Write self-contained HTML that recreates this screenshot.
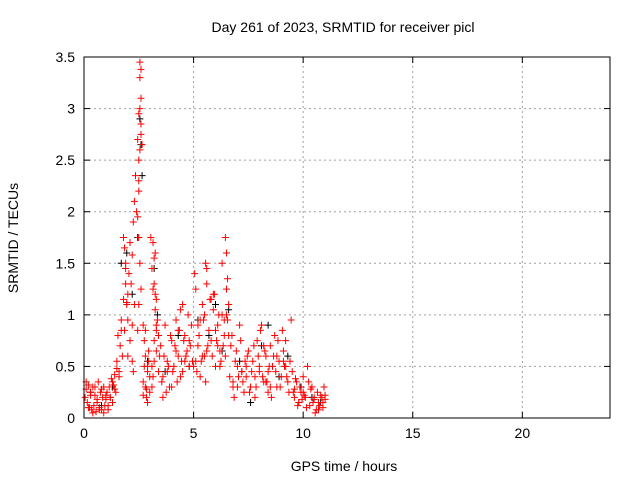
<!DOCTYPE html>
<html><head><meta charset="utf-8"><style>
html,body{margin:0;padding:0;background:#fff;}
svg{display:block;font-family:"Liberation Sans",sans-serif;}
</style></head><body>
<svg id="chart" width="640" height="480" viewBox="0 0 640 480">
<text x="343" y="32" font-size="14" text-anchor="middle">Day 261 of 2023, SRMTID for receiver picl</text>
<text x="344" y="471" font-size="14" text-anchor="middle">GPS time / hours</text>
<text x="18" y="238" font-size="14" text-anchor="middle" transform="rotate(-90 18 238)">SRMTID / TECUs</text>
<g id="grid"></g>
<g id="ticks"></g>
<g id="blackpts"></g>
<g id="redpts"></g>
<rect x="84" y="57" width="526" height="361" fill="none" stroke="#000" stroke-width="1"/>
</svg>
<script>
const xTicks=[0,5,10,15,20];
const yTicks=[0,0.5,1,1.5,2,2.5,3,3.5];
const yTickLabels=["0","0.5","1","1.5","2","2.5","3","3.5"];
const redT=[0.05,0.1,0.15,0.2,0.25,0.3,0.35,0.4,0.45,0.5,0.55,0.6,0.65,0.7,0.75,0.8,0.85,0.9,0.95,1.0,0.1,0.2,0.3,0.4,0.5,0.6,0.7,0.8,0.9,1.0,1.05,1.1,1.15,1.2,1.25,1.3,1.35,1.4,1.45,1.5,1.1,1.2,1.3,1.4,
1.5,1.55,1.6,1.65,1.7,1.75,1.8,1.85,1.9,1.95,2.0,1.6,1.7,1.8,1.9,2.0,1.85,1.9,1.95,2.0,2.05,2.1,2.15,2.2,2.25,2.3,2.35,2.4,2.1,2.2,2.3,2.2,2.25,
2.45,2.5,2.5,2.55,2.55,2.55,2.55,2.6,2.6,2.6,2.6,2.5,2.5,2.45,2.5,2.55,2.6,2.65,2.5,2.45,
2.7,2.75,2.8,2.85,2.9,2.95,3.0,2.7,2.8,2.9,3.0,2.75,2.85,2.95,2.7,2.8,2.9,
3.05,3.1,3.15,3.2,3.25,3.3,3.35,3.4,3.45,3.1,3.15,3.2,3.25,3.3,3.15,3.2,3.25,3.1,3.3,3.4,3.2,3.3,
3.5,3.6,3.7,3.8,3.9,4.0,4.1,4.2,4.3,4.4,4.5,4.6,4.7,4.8,4.9,3.55,3.65,3.75,3.85,3.95,4.05,4.15,4.25,4.35,4.45,4.55,4.65,4.75,4.85,4.95,3.6,3.8,4.0,4.2,4.4,4.6,4.8,4.5,4.3,
5.0,5.1,5.2,5.3,5.4,5.5,5.6,5.7,5.8,5.9,6.0,6.1,6.2,6.3,6.4,5.05,5.15,5.25,5.35,5.45,5.55,5.65,5.75,5.85,5.95,6.05,6.15,6.25,6.35,5.2,5.3,5.5,5.6,5.8,6.0,6.2,6.4,5.4,5.55,5.6,5.1,5.9,6.1,6.3,
6.45,6.5,6.5,6.55,6.55,6.6,6.6,6.5,6.45,6.65,6.7,6.8,6.9,7.0,7.1,7.2,7.3,7.4,6.75,6.85,6.95,7.05,7.15,7.25,7.35,7.45,6.8,7.0,7.2,7.4,
7.5,7.6,7.7,7.8,7.9,8.0,8.1,8.2,8.3,8.4,8.5,8.6,8.7,8.8,8.9,9.0,9.1,9.2,9.3,9.4,7.55,7.65,7.75,7.85,7.95,8.05,8.15,8.25,8.35,8.45,8.55,8.65,8.75,8.85,8.95,9.05,9.15,9.25,9.35,9.45,8.0,8.2,8.3,8.4,8.8,9.1,9.2,7.8,8.5,
9.5,9.6,9.7,9.8,9.9,10.0,10.1,10.2,9.55,9.65,9.75,9.85,9.95,10.05,10.15,10.25,9.6,9.8,10.0,
10.3,10.4,10.5,10.6,10.7,10.8,10.9,11.0,10.35,10.45,10.55,10.65,10.75,10.85,10.95,10.5,10.7,10.9,11.0,10.6];
const redV=[0.2,0.28,0.15,0.32,0.1,0.25,0.08,0.3,0.12,0.22,0.06,0.18,0.35,0.1,0.25,0.08,0.2,0.3,0.12,0.22,0.35,0.1,0.22,0.05,0.3,0.15,0.08,0.28,0.05,0.18,0.25,0.12,0.3,0.2,0.38,0.15,0.32,0.42,0.25,0.48,0.08,0.2,0.35,0.28,
0.55,0.8,0.45,0.7,0.95,0.6,1.15,0.85,1.45,1.1,0.6,0.4,0.85,1.75,1.3,1.2,1.65,1.5,1.12,0.95,1.4,1.7,1.3,1.58,1.9,2.1,2.35,2.0,0.75,0.55,1.1,0.9,0.45,
2.7,2.95,2.3,3.45,3.3,3.0,2.6,3.38,3.1,2.85,2.75,2.5,2.2,1.95,1.75,1.5,1.25,2.65,1.1,0.85,
0.9,0.5,0.3,0.2,0.45,0.65,0.25,0.35,0.6,0.15,0.4,0.75,0.28,0.55,0.22,0.85,0.5,
1.75,1.45,1.7,1.3,1.6,1.15,0.95,0.8,0.6,0.5,1.25,0.75,1.05,0.9,0.4,1.55,1.2,0.3,0.65,0.45,0.55,0.85,
0.7,0.4,0.9,0.55,0.3,0.75,0.5,0.95,0.6,1.05,0.45,0.8,0.65,0.5,0.9,0.35,0.6,0.25,0.5,0.8,0.45,0.7,0.35,0.85,0.55,0.75,0.6,1.0,0.7,0.55,0.2,0.45,0.3,0.65,0.4,0.55,0.75,1.1,0.85,
0.5,1.25,0.7,0.95,1.1,0.6,1.45,0.85,0.75,1.05,0.5,0.9,0.65,1.0,0.8,1.4,0.45,0.8,0.55,0.95,1.5,0.7,1.15,0.6,1.2,0.75,1.0,0.55,0.7,0.9,0.4,1.0,0.65,1.15,0.85,0.5,0.95,0.6,0.35,1.3,0.55,1.2,0.7,
1.5,1.75,1.25,1.6,0.95,1.35,0.8,1.1,1.0,0.6,0.4,0.7,0.35,0.55,0.3,0.9,0.45,0.25,0.5,0.8,0.2,0.65,0.4,0.75,0.35,0.55,0.6,0.3,0.5,0.45,
0.4,0.65,0.3,0.55,0.2,0.75,0.45,0.9,0.35,0.6,0.25,0.7,0.5,0.8,0.3,0.55,0.4,0.65,0.75,0.35,0.55,0.25,0.45,0.7,0.3,0.6,0.85,0.4,0.65,0.35,0.5,0.2,0.6,0.45,0.75,0.3,0.85,0.5,0.4,0.25,0.95,0.5,0.7,0.35,0.45,0.6,0.55,0.5,0.4,
0.3,0.45,0.2,0.35,0.15,0.25,0.4,0.2,0.5,0.25,0.38,0.12,0.3,0.18,0.22,0.1,0.35,0.28,0.15,
0.25,0.12,0.3,0.2,0.08,0.15,0.22,0.1,0.18,0.28,0.15,0.05,0.25,0.12,0.2,0.3,0.18,0.08,0.15,0.22];
const blackT=[0.3,0.8,1.3,1.7,1.95,2.2,2.45,2.55,2.6,2.65,2.9,3.2,3.35,3.7,4.3,4.8,5.2,5.7,6.0,6.3,6.6,7.1,7.6,8.1,8.4,8.9,9.3,9.9,10.4,10.8];
const blackV=[0.25,0.12,0.3,1.5,1.6,1.2,1.75,2.9,2.65,2.35,0.55,1.45,1.0,0.45,0.8,0.5,0.95,0.8,1.1,0.65,1.05,0.55,0.15,0.7,0.9,0.4,0.6,0.3,0.2,0.15];
const X0=84,X1=610,Y0=418,Y1=57;
function xs(t){return X0+(t/24)*(X1-X0);}
function ys(v){return Y0-(v/3.5)*(Y0-Y1);}
const NS="http://www.w3.org/2000/svg";
function mk(tag,attrs,parent){const e=document.createElementNS(NS,tag);for(const k in attrs)e.setAttribute(k,attrs[k]);parent.appendChild(e);return e;}
const grid=document.getElementById('grid'),ticks=document.getElementById('ticks');
xTicks.forEach(t=>{const x=xs(t);
 if(t>0){const g=mk('line',{x1:x,y1:Y0,x2:x,y2:Y1,stroke:'#a0a0a0','stroke-dasharray':'2,3'},grid);
 
 }
 const a=mk('line',{x1:x,y1:Y0,x2:x,y2:Y0-6,stroke:'#000'},ticks);
 
 
 const b=mk('line',{x1:x,y1:Y1,x2:x,y2:Y1+6,stroke:'#000'},ticks);
 
 
 const l=mk('text',{x:x,y:Y0+20,'font-size':14,'text-anchor':'middle'},ticks);l.textContent=String(t);
 
 
});
yTicks.forEach((v,i)=>{const y=ys(v);
 if(v>0&&v<3.5){const g=mk('line',{x1:X0,y1:y,x2:X1,y2:y,stroke:'#a0a0a0','stroke-dasharray':'2,3'},grid);
 
 }
 const a=mk('line',{x1:X0,y1:y,x2:X0+6,y2:y,stroke:'#000'},ticks);
 
 
 const b=mk('line',{x1:X1,y1:y,x2:X1-6,y2:y,stroke:'#000'},ticks);
 
 
 const l=mk('text',{x:X0-9,y:y+5,'font-size':14,'text-anchor':'end'},ticks);l.textContent=yTickLabels[i];
 
 
});
function plus(g,t,v,c){const x=xs(t),y=ys(v);
 const p=mk('path',{d:`M${x-3.5},${y}H${x+3.5}M${x},${y-3.5}V${y+3.5}`,stroke:c,'stroke-width':1,fill:'none'},g);
 
 }
const bg=document.getElementById('blackpts');blackT.forEach((t,i)=>plus(bg,t,blackV[i],'#000'));
const rg=document.getElementById('redpts');redT.forEach((t,i)=>plus(rg,t,redV[i],'#ff0000'));
</script>
</body></html>
